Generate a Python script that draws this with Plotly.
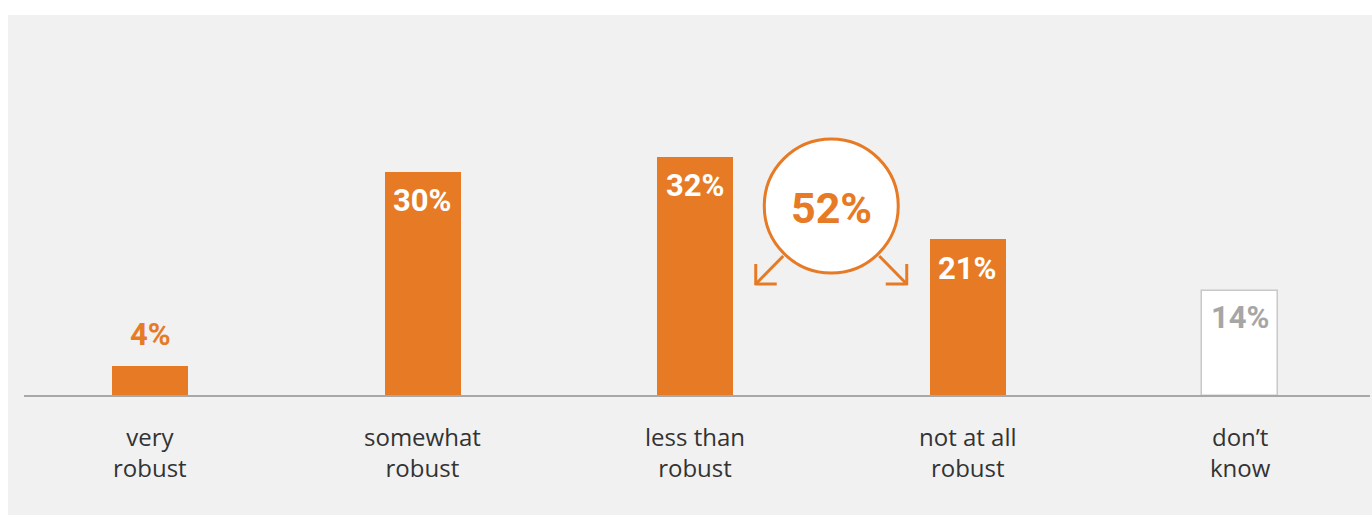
import plotly.graph_objects as go

# Survey answers and their shares (%)
categories = ["very<br>robust", "somewhat<br>robust", "less than<br>robust", "not at all<br>robust", "don’t<br>know"]
shares = [4, 30, 32, 21, 14]
value_labels = ["4%", "30%", "32%", "21%", "14%"]
combined_label = "52%"          # less than robust + not at all robust

ORANGE = "#E67A25"
PANEL = "#F1F1F1"
GREY_TEXT = "#A6A6A6"
DARK_TEXT = "#333333"

W, H = 1372, 515
# pixel geometry of the category axis and value axis
X0_PX, X_STEP = 150.0, 272.5     # centre of first category, spacing between categories
BASE_PX, Y_SCALE = 396.0, 7.47   # baseline row, pixels per percentage point


def dx(px):
    """pixel distance -> x data units"""
    return px / X_STEP


def dy(px):
    """pixel distance -> y data units"""
    return px / Y_SCALE


xs = list(range(len(categories)))
fill = [ORANGE, ORANGE, ORANGE, ORANGE, "#FFFFFF"]
edge = [ORANGE, ORANGE, ORANGE, ORANGE, "#C8C8C8"]

fig = go.Figure()
fig.add_trace(go.Bar(
    x=xs, y=shares, width=dx(76),
    marker=dict(color=fill, line=dict(color=edge, width=[0, 0, 0, 0, 1.5])),
    hoverinfo="skip",
))

LABEL_FONT = "Roboto, sans-serif"

annotations = []
for i, (v, t) in enumerate(zip(shares, value_labels)):
    if v < 8:
        color, shift = ORANGE, 32
    elif i == 4:
        color, shift = GREY_TEXT, -26
    else:
        color, shift = "#FFFFFF", -29
    annotations.append(dict(
        x=i, y=v, text=t, showarrow=False, yshift=shift,
        xanchor="center", yanchor="middle",
        font=dict(family=LABEL_FONT, size=31, color=color, weight=700),
    ))
    # two-line category name under the baseline
    annotations.append(dict(
        x=i, y=0, text=categories[i], showarrow=False, yshift=-56,
        xanchor="center", yanchor="middle",
        font=dict(family="Open Sans, sans-serif", size=24, color=DARK_TEXT),
    ))

# Combined "less than / not at all" badge between the two bars
cx = 2.5
cy = dy(BASE_PX - 206)
r = 67
annotations.append(dict(
    x=cx, y=cy, text=combined_label, showarrow=False,
    xanchor="center", yanchor="middle", yshift=-2,
    font=dict(family=LABEL_FONT, size=43, color=ORANGE, weight=700),
))

shapes = [
    # light panel behind the chart
    dict(type="rect", xref="paper", yref="paper", x0=8 / W, x1=1, y0=0, y1=(H - 15) / H,
         fillcolor=PANEL, line=dict(width=0), layer="below"),
    # baseline
    dict(type="line", xref="paper", yref="y", x0=24 / W, x1=1370 / W, y0=0, y1=0,
         line=dict(color="#A8A8A8", width=2), layer="above"),
    # badge circle
    dict(type="circle", x0=cx - dx(r), x1=cx + dx(r), y0=cy - dy(r), y1=cy + dy(r),
         fillcolor="#FFFFFF", line=dict(color=ORANGE, width=3), layer="above"),
]

# arrows from the badge down to the two bars it sums
for sgn in (-1, 1):
    sx, sy = cx + sgn * dx(48), cy - dy(50)
    tx, ty = cx + sgn * dx(75.5), cy - dy(78)
    line = dict(color=ORANGE, width=3)
    shapes.append(dict(type="line", x0=sx, y0=sy, x1=tx, y1=ty, line=line))
    shapes.append(dict(type="line", x0=tx, y0=ty - dy(1), x1=tx, y1=ty + dy(20), line=line))
    shapes.append(dict(type="line", x0=tx + sgn * dx(1), y0=ty, x1=tx - sgn * dx(21), y1=ty, line=line))

fig.update_layout(
    width=W, height=H,
    margin=dict(l=0, r=0, t=0, b=0),
    paper_bgcolor="#FFFFFF", plot_bgcolor="#FFFFFF",
    showlegend=False,
    xaxis=dict(range=[(0 - X0_PX) / X_STEP, (W - X0_PX) / X_STEP],
               visible=False, fixedrange=True),
    yaxis=dict(range=[(BASE_PX - H) / Y_SCALE, BASE_PX / Y_SCALE],
               visible=False, fixedrange=True),
    annotations=annotations,
    shapes=shapes,
    bargap=0,
)

fig.write_html("out.html", config={"displayModeBar": False})
